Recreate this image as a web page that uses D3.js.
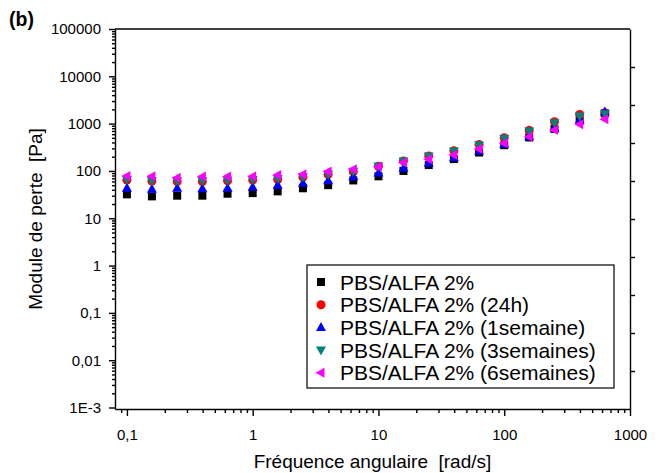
<!DOCTYPE html>
<html>
<head>
<meta charset="utf-8">
<script src="https://cdn.jsdelivr.net/npm/d3@7"></script>
<style>
  html, body { margin: 0; padding: 0; background: #fff; }
  svg { display: block; font-family: "Liberation Sans", Arial, sans-serif; }
  text { white-space: pre; }
</style>
</head>
<body>
<svg id="chart" width="666" height="473"></svg>
<script>
// Angular frequency sweep (rad/s), 5 points per decade
const frequencies = [0.1, 0.158, 0.251, 0.398, 0.631, 1, 1.58, 2.51, 3.98, 6.31,
                     10, 15.8, 25.1, 39.8, 63.1, 100, 158, 251, 398, 631];

// Loss modulus G'' (Pa) for each ageing time
const gRef    = [32, 29, 30, 30, 33, 34, 37, 43, 50, 63, 77, 100, 133, 178, 245, 350, 510, 770, 1150, 1650];
const g24h    = [64, 61, 60, 60, 62, 64, 66, 74, 84, 96, 126, 163, 208, 268, 360, 500, 720, 1100, 1560, 1700];
const g1sem   = [43, 41, 43, 42, 43, 45, 50, 55, 62, 75, 90, 114, 145, 190, 264, 366, 530, 794, 1200, 1760];
const g3sem   = [66, 63, 62, 63, 64, 66, 69, 75, 86, 98, 127, 162, 207, 264, 354, 490, 700, 1047, 1450, 1620];
const g6sem   = [78, 77, 72, 76, 76, 77, 82, 85, 97, 108, 123, 150, 176, 217, 291, 384, 530, 734, 968, 1236];

const seriesNames = ["PBS/ALFA 2%", "PBS/ALFA 2% (24h)", "PBS/ALFA 2% (1semaine)",
                     "PBS/ALFA 2% (3semaines)", "PBS/ALFA 2% (6semaines)"];
const seriesValues = [gRef, g24h, g1sem, g3sem, g6sem];

// Axis tick labels (French decimal notation)
const xTickValues = [0.1, 1, 10, 100, 1000];
const xTickLabels = ["0,1", "1", "10", "100", "1000"];
const yTickValues = [1e-3, 0.01, 0.1, 1, 10, 100, 1000, 10000, 100000];
const yTickLabels = ["1E-3", "0,01", "0,1", "1", "10", "100", "1000", "10000", "100000"];

const xTitle = "Fréquence angulaire  [rad/s]";
const yTitle = "Module de perte  [Pa]";
const panelLabel = "(b)";

// ---- layout ----
const plot = { left: 115, right: 630, top: 29, bottom: 409 };

const x = d3.scaleLog().domain([0.0804, 1000]).range([plot.left, plot.right]);
const y = d3.scaleLog().domain([0.00093, 100000]).range([plot.bottom, plot.top]);

const svg = d3.select("#chart");

// minor ticks 2..9 within each decade
function minorTicks(scale) {
  const [d0, d1] = scale.domain();
  const out = [];
  for (let e = Math.floor(Math.log10(d0)); e <= Math.ceil(Math.log10(d1)); e++) {
    for (let m = 2; m <= 9; m++) {
      const v = m * Math.pow(10, e);
      if (v >= d0 && v <= d1) out.push(v);
    }
  }
  return out;
}

const font = "Liberation Sans, Arial, sans-serif";

// bottom axis
svg.append("g").attr("transform", `translate(0,${plot.bottom})`)
  .call(d3.axisBottom(x).tickValues(xTickValues)
        .tickFormat((d, i) => xTickLabels[i]).tickSize(7).tickPadding(13).tickSizeOuter(0));
svg.append("g").attr("transform", `translate(0,${plot.bottom})`)
  .call(d3.axisBottom(x).tickValues(minorTicks(x)).tickFormat("").tickSize(4).tickSizeOuter(0))
  .select(".domain").remove();

// left axis
svg.append("g").attr("transform", `translate(${plot.left},0)`)
  .call(d3.axisLeft(y).tickValues(yTickValues)
        .tickFormat((d, i) => yTickLabels[i]).tickSize(6).tickPadding(8).tickSizeOuter(0));
svg.append("g").attr("transform", `translate(${plot.left},0)`)
  .call(d3.axisLeft(y).tickValues(minorTicks(y)).tickFormat("").tickSize(3).tickSizeOuter(0))
  .select(".domain").remove();

// right axis: plain linear ticks dividing the frame height
const yLin = d3.scaleLinear().domain([0, 10]).range([plot.bottom, plot.top]);
svg.append("g").attr("transform", `translate(${plot.right},0)`)
  .call(d3.axisRight(yLin).tickValues(d3.range(1, 10)).tickFormat("").tickSize(5).tickSizeOuter(0));

// top frame line
svg.append("line").attr("x1", plot.left).attr("x2", plot.right)
  .attr("y1", plot.top).attr("y2", plot.top);

svg.selectAll(".domain, .tick line, line").attr("stroke", "#000").attr("stroke-width", 1.4);
svg.selectAll(".tick text").attr("font-size", 15).attr("font-family", font).attr("fill", "#000");

// axis titles
svg.append("text").attr("x", (plot.left + plot.right) / 2).attr("y", 468)
  .attr("text-anchor", "middle").attr("font-size", 19).attr("font-family", font)
  .text(xTitle);
svg.append("text").attr("transform", `translate(42,${(plot.top + plot.bottom) / 2}) rotate(-90)`)
  .attr("text-anchor", "middle").attr("font-size", 19).attr("font-family", font)
  .text(yTitle);
svg.append("text").attr("x", 9).attr("y", 26).attr("font-size", 19.5).attr("font-weight", "bold")
  .attr("font-family", font).text(panelLabel);

// marker shapes
const markerStyles = [
  { color: "#000000", path: () => "M-4,-4H4V4H-4Z" },
  { color: "#ff0000", path: () => d3.symbol(d3.symbolCircle, 64)() },
  { color: "#0000ff", path: () => "M0,-5.5L5,3.5L-5,3.5Z" },
  { color: "#008080", path: () => "M0,5.5L5,-3.5L-5,-3.5Z" },
  { color: "#ff00ff", path: () => "M-5.5,0L3.5,-5L3.5,5Z" }
];

// data points
seriesValues.forEach((vals, s) => {
  svg.append("g").selectAll("path")
    .data(vals.map((v, i) => ({ f: frequencies[i], v })))
    .join("path")
    .attr("transform", d => `translate(${x(d.f)},${y(d.v)})`)
    .attr("d", markerStyles[s].path())
    .attr("fill", markerStyles[s].color);
});

// legend
const legend = svg.append("g");
legend.append("rect").attr("x", 307).attr("y", 265).attr("width", 307).attr("height", 123)
  .attr("fill", "#fff").attr("stroke", "#000").attr("stroke-width", 1.2);
seriesNames.forEach((name, i) => {
  const cy = 282 + i * 22.7;
  legend.append("path").attr("transform", `translate(321,${cy})`)
    .attr("d", markerStyles[i].path()).attr("fill", markerStyles[i].color);
  legend.append("text").attr("x", 340).attr("y", cy).attr("dy", "0.36em")
    .attr("font-size", 21).attr("font-family", font).text(name);
});
</script>
</body>
</html>
